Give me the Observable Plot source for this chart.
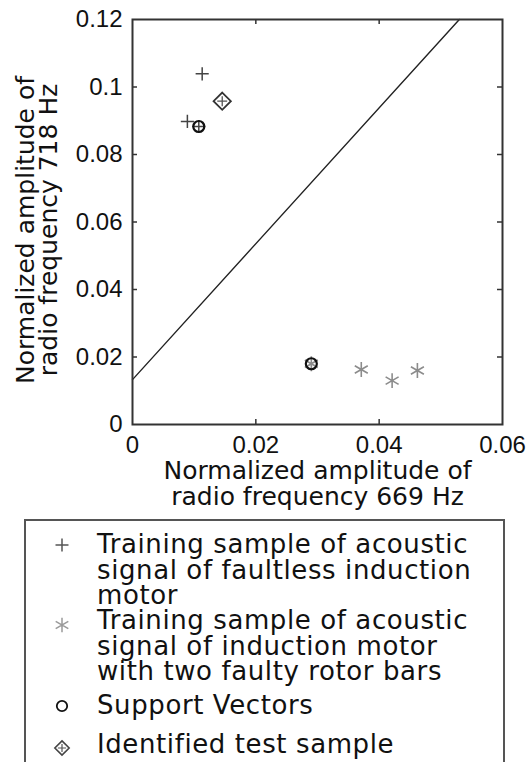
<!DOCTYPE html>
<html><head><meta charset="utf-8">
<script src="https://cdn.jsdelivr.net/npm/d3@7"></script>
<script src="https://cdn.jsdelivr.net/npm/@observablehq/plot@0.6"></script>
<style>
body{margin:0;background:#fff;}
#wrap{position:relative;width:530px;height:762px;overflow:hidden;background:#fff;font-family:"DejaVu Sans";}
#chart svg{display:block;}
g[aria-label="axis title"] text{letter-spacing:1px;}
#legend{position:absolute;left:24px;top:519px;width:481px;height:300px;border:2px solid #555;box-sizing:border-box;}
.entry{position:absolute;left:97px;font-size:26px;line-height:25.5px;letter-spacing:0.6px;color:#111;white-space:pre;}
.sym{position:absolute;width:24px;height:24px;overflow:visible;}
</style></head><body><div id="wrap"><div id="chart"></div><div id="legend"></div></div>
<script>
// ---- data ----
const xTicks = [0, 0.02, 0.04, 0.06];
const xTickLabels = ["0", "0.02", "0.04", "0.06"];
const yTicks = [0, 0.02, 0.04, 0.06, 0.08, 0.1, 0.12];
const yTickLabels = ["0", "0.02", "0.04", "0.06", "0.08", "0.1", "0.12"];
const xInnerTicks = [0.02, 0.04];
const yInnerTicks = [0.02, 0.04, 0.06, 0.08, 0.1];

const faultlessX = [0.0113, 0.0089, 0.01075];
const faultlessY = [0.1039, 0.0898, 0.0883];
const faultyX = [0.0290, 0.0371, 0.0421, 0.0462];
const faultyY = [0.0180, 0.0163, 0.0130, 0.0160];
const supportX = [0.01075, 0.0290];
const supportY = [0.0883, 0.0180];
const testX = [0.01455];
const testY = [0.0958];
const boundaryX = [0, 0.0530];
const boundaryY = [0.0133, 0.12];

const xLabel = "Normalized amplitude of\nradio frequency 669 Hz";
const yLabel = "Normalized amplitude of\nradio frequency 718 Hz";
const legendLabels = [
  "Training sample of acoustic\nsignal of faultless induction\nmotor",
  "Training sample of acoustic\nsignal of induction motor\nwith two faulty rotor bars",
  "Support Vectors",
  "Identified test sample"
];

// ---- tables ----
const pts = (xs, ys) => xs.map((x, i) => ({x, y: ys[i]}));
const faultless = pts(faultlessX, faultlessY);
const faulty = pts(faultyX, faultyY);
const support = pts(supportX, supportY);
const test = pts(testX, testY);
const boundary = pts(boundaryX, boundaryY);
const xLab = new Map(xTicks.map((t, i) => [t, xTickLabels[i]]));
const yLab = new Map(yTicks.map((t, i) => [t, yTickLabels[i]]));

const W = 530, H = 510, mL = 132, mR = 28, mT = 19, mB = 86;
const fw = W - mL - mR, fh = H - mT - mB, tl = 5;
const frameColor = "#333";

const chart = Plot.plot({
  width: W, height: H,
  marginLeft: mL, marginRight: mR, marginTop: mT, marginBottom: mB,
  style: {fontFamily: "Liberation Sans", fontSize: "24px", color: "#111", background: "#fff"},
  x: {domain: [0, 0.06]},
  y: {domain: [0, 0.12]},
  marks: [
    Plot.axisX({ticks: xTicks, tickFormat: d => xLab.get(d), tickSize: 0, tickPadding: 11, label: null, fontSize: 24, fill: "#111"}),
    Plot.axisY({ticks: yTicks, tickFormat: d => yLab.get(d), tickSize: 0, tickPadding: 10, label: null, fontSize: 24, fill: "#111"}),
    Plot.ruleX(xInnerTicks, {x: d => d, insetTop: fh - tl, stroke: frameColor, strokeWidth: 1.5}),
    Plot.ruleX(xInnerTicks, {x: d => d, insetBottom: fh - tl, stroke: frameColor, strokeWidth: 1.5}),
    Plot.ruleY(yInnerTicks, {y: d => d, insetRight: fw - tl, stroke: frameColor, strokeWidth: 1.5}),
    Plot.ruleY(yInnerTicks, {y: d => d, insetLeft: fw - tl, stroke: frameColor, strokeWidth: 1.5}),
    Plot.line(boundary, {x: "x", y: "y", stroke: "#222", strokeWidth: 1.4}),
    Plot.dot(faultless, {x: "x", y: "y", symbol: "plus", r: 4.3, stroke: "#444", strokeWidth: 1.5}),
    Plot.dot(faulty, {x: "x", y: "y", symbol: "asterisk", r: 7.1, stroke: "#8c8c8c", strokeWidth: 1.6}),
    Plot.dot(test, {x: "x", y: "y", symbol: "diamond2", r: 7.8, stroke: "#333", fill: "none", strokeWidth: 1.8}),
    Plot.dot(test, {x: "x", y: "y", symbol: "plus", r: 3.3, stroke: "#555", strokeWidth: 1.3}),
    Plot.dot(support, {x: "x", y: "y", symbol: "circle", r: 5.5, stroke: "#111", fill: "none", strokeWidth: 2.2}),
    Plot.frame({stroke: frameColor, strokeWidth: 2}),
    Plot.text([xLabel], {frameAnchor: "bottom", dy: 59, textAnchor: "middle", lineAnchor: "middle", fontSize: 25, fontFamily: "DejaVu Sans", lineHeight: 1.04, fill: "#111", ariaLabel: "axis title"}),
    Plot.text([yLabel], {frameAnchor: "left", dx: -94.5, dy: 8, rotate: -90, textAnchor: "middle", lineAnchor: "middle", fontSize: 25, fontFamily: "DejaVu Sans", lineHeight: 0.92, fill: "#111", ariaLabel: "axis title"})
  ]
});
document.getElementById("chart").appendChild(chart);

// ---- legend ----
const wrap = document.getElementById("wrap");
const entryTops = [532, 608, 693, 732];
const symCenters = [545, 625, 706, 748];
const symDefs = [
  [{type: d3.symbolPlus, size: 57, stroke: "#555", sw: 1.5}],
  [{type: d3.symbolAsterisk, size: 150, stroke: "#9a9a9a", sw: 1.5}],
  [{type: d3.symbolCircle, size: 85, stroke: "#111", sw: 1.8}],
  [{type: d3.symbolDiamond2, size: 130, stroke: "#444", sw: 1.6}, {type: d3.symbolPlus, size: 24, stroke: "#555", sw: 1.2}]
];
legendLabels.forEach((lab, i) => {
  const div = document.createElement("div");
  div.className = "entry";
  div.style.top = entryTops[i] + "px";
  div.textContent = lab;
  wrap.appendChild(div);
  const svg = d3.create("svg").attr("class", "sym").attr("width", 24).attr("height", 24)
    .style("left", (62 - 12) + "px").style("top", (symCenters[i] - 12) + "px");
  symDefs[i].forEach(s => {
    svg.append("path").attr("transform", "translate(12,12)")
      .attr("d", d3.symbol(s.type, s.size)())
      .attr("fill", "none").attr("stroke", s.stroke).attr("stroke-width", s.sw);
  });
  wrap.appendChild(svg.node());
});
</script>
</body></html>
